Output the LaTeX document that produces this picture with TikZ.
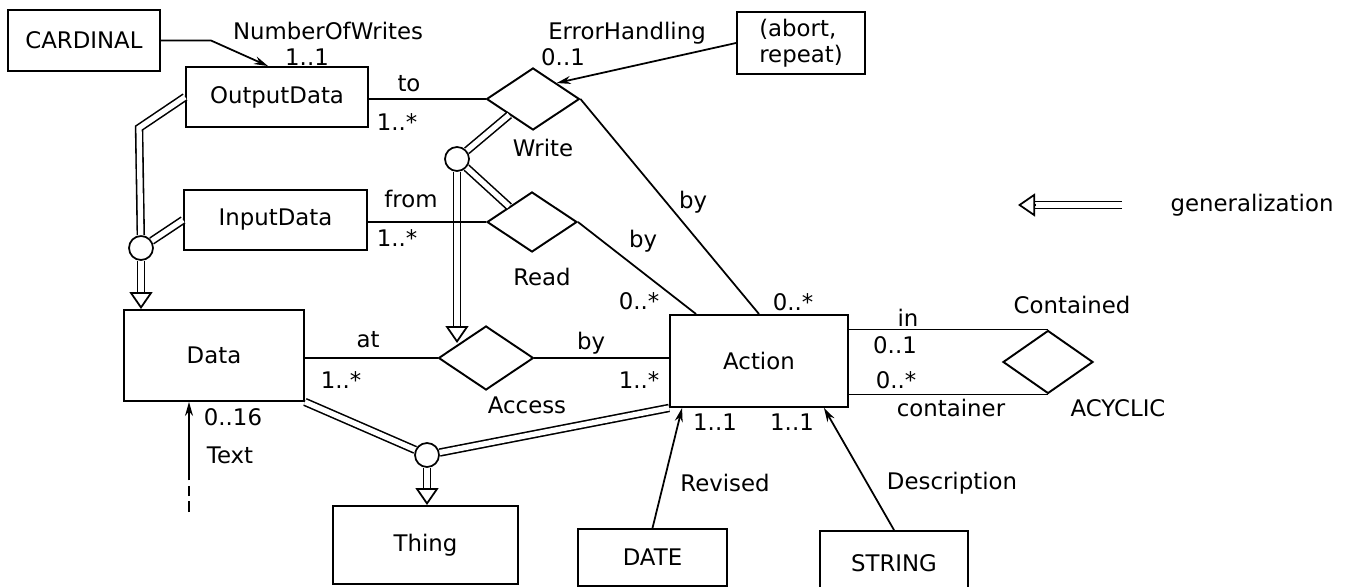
\documentclass[tikz,border=0pt]{standalone}
\usepackage{fontspec}
\setmainfont{DejaVu Sans}
\usetikzlibrary{positioning, arrows.meta, shapes.geometric, calc}

\begin{document}
\begin{tikzpicture}[x=0.02cm, y=-0.02cm,
    font=\fontsize{13}{15}\selectfont,
    entity/.style={draw, rectangle, line width=1.1pt, inner sep=2pt},
    relation/.style={draw, diamond, line width=1.1pt, inner sep=0pt},
    isa/.style={draw, circle, line width=1pt, fill=white, minimum size=0.48cm, inner sep=0pt},
    assoc/.style={line width=1pt},
    ref/.style={line width=1pt, -{Stealth[length=0.28cm, width=0.16cm]}},
    gen/.style={double, double distance=3pt, line width=0.9pt},
    genhead/.style={line width=1pt, -{Triangle[open, length=0.34cm, width=0.46cm]}},
    lbl/.style={inner sep=0pt}]
    \useasboundingbox (0,0) rectangle (1348,587);

    % Entities
    \node[entity, minimum width=3.04cm, minimum height=1.22cm] (cardinal) at (84,40.5) {CARDINAL};
    \node[entity, minimum width=3.64cm, minimum height=1.2cm] (outputdata) at (277,97) {OutputData};
    \node[entity, minimum width=3.66cm, minimum height=1.2cm] (inputdata) at (275.5,220) {InputData};
    \node[entity, minimum width=3.6cm, minimum height=1.82cm] (data) at (214,355.5) {Data};
    \node[entity, minimum width=3.56cm, minimum height=1.84cm] (action) at (759,361) {Action};
    \node[entity, minimum width=3.7cm, minimum height=1.56cm] (thing) at (425.5,545) {Thing};
    \node[entity, minimum width=2.98cm, minimum height=1.14cm] (date) at (652.5,557.5) {DATE};
    \node[entity, minimum width=2.96cm, minimum height=1.3cm] (string) at (894,563.5) {STRING};
    \node[entity, minimum width=2.56cm, minimum height=1.24cm, align=left] (abort) at (801,43) {(abort,\\repeat)};

    % Relationships
    \node[relation, minimum width=1.86cm, minimum height=1.24cm] (write) at (533,99) {};
    \node[relation, minimum width=1.8cm, minimum height=1.2cm] (read) at (532,222) {};
    \node[relation, minimum width=1.9cm, minimum height=1.28cm] (access) at (486,358) {};
    \node[relation, minimum width=1.8cm, minimum height=1.26cm] (contained) at (1048,362) {};

    % Generalization points
    \node[isa] (gc1) at (141,248) {};
    \node[isa] (gc2) at (457,159) {};
    \node[isa] (gc3) at (427,455) {};

    % Generalization lines
    \coordinate (dtip) at (gc1 |- data.north);
    \coordinate (dbase) at ([yshift=0.34cm]dtip);
    \draw[gen] (outputdata.west) -- ++(-46,31) -- (gc1);
    \draw[gen] (inputdata.west) -- (gc1);
    \draw[gen] (gc1) -- (dbase);
    \draw[genhead] (dbase) -- (dtip);

    \coordinate (acctip) at (457,343);
    \coordinate (accbase) at ([yshift=0.34cm]acctip);
    \draw[gen] (gc2) -- (write.south west);
    \draw[gen] (gc2) -- (read.north west);
    \draw[gen] (gc2) -- (accbase);
    \draw[genhead] (accbase) -- (acctip);

    \coordinate (thtip) at (gc3 |- thing.north);
    \coordinate (thbase) at ([yshift=0.34cm]thtip);
    \draw[gen] (data.south east) -- (gc3);
    \draw[gen] (gc3) -- (action.south west);
    \draw[gen] (gc3) -- (thbase);
    \draw[genhead] (thbase) -- (thtip);

    % Associations
    \draw[ref] (cardinal.east) -- ++(50,0) -- ([xshift=-0.18cm]outputdata.north);
    \draw[assoc] (outputdata.east |- write.west) -- (write.west);
    \draw[ref] (abort.west) -- (write.north east);
    \draw[assoc] (write.east) -- (action.north);
    \draw[assoc] (inputdata.east |- read.west) -- (read.west);
    \draw[assoc] (read.east) -- ([xshift=0.54cm]action.north west);
    \draw[assoc] (data.east |- access.west) -- (access.west);
    \draw[assoc] (access.east) -- (action.west |- access.east);
    \draw[assoc] (action.east |- contained.north) -- (contained.north);
    \draw[assoc] (action.east |- contained.south) -- (contained.south);
    \draw[ref] (date.north) -- ([xshift=0.26cm]action.south west);
    \draw[ref] (string.north) -- ([xshift=-0.5cm]action.south east);

    % Text attribute
    \coordinate (txtend) at (189,512);
    \coordinate (txtmid) at (189,470);
    \draw[assoc, dash pattern=on 6pt off 3pt] (txtend) -- (txtmid);
    \draw[ref] (txtmid) -- (txtmid |- data.south);

    % Labels
    \node[lbl] (lnow) at (328,31) {NumberOfWrites};
    \node[lbl] (lnow1) at (307,57) {1..1};
    \node[lbl] (lto) at (409,84) {to};
    \node[lbl] (lto1) at (397,122) {1..*};
    \node[lbl] (leh) at (627,33) {ErrorHandling};
    \node[lbl] (leh1) at (563,57) {0..1};
    \node[lbl] (lwrite) at (543,148) {Write};
    \node[lbl] (lfrom) at (411,199) {from};
    \node[lbl] (lfrom1) at (397,238) {1..*};
    \node[lbl] (lread) at (542,277) {Read};
    \node[lbl] (lbyw) at (693,202) {by};
    \node[lbl] (lbyr) at (643,241) {by};
    \node[lbl] (lbyr1) at (639,301) {0..*};
    \node[lbl] (lbyw1) at (793,302) {0..*};
    \node[lbl] (lat) at (368,340) {at};
    \node[lbl] (lat1) at (341,380) {1..*};
    \node[lbl] (lbya) at (591,343) {by};
    \node[lbl] (lbya1) at (639,380) {1..*};
    \node[lbl] (laccess) at (527,405) {Access};
    \node[lbl] (ltext1) at (233,417) {0..16};
    \node[lbl] (ltext) at (230,455) {Text};
    \node[lbl] (lrev1) at (715,422) {1..1};
    \node[lbl] (ldesc1) at (792,422) {1..1};
    \node[lbl] (lrev) at (725,483) {Revised};
    \node[lbl] (ldesc) at (952,483) {Description};
    \node[lbl] (lin) at (908,318) {in};
    \node[lbl] (lin1) at (895,345) {0..1};
    \node[lbl] (lcont1) at (896,380) {0..*};
    \node[lbl] (lcont) at (951,408) {container};
    \node[lbl] (lcontained) at (1072,305) {Contained};
    \node[lbl] (lacyclic) at (1118,408) {ACYCLIC};

    % Legend
    \coordinate (legtail) at (1122,205);
    \coordinate (legtip) at (1018,205);
    \coordinate (legbase) at ([xshift=0.34cm]legtip);
    \draw[gen] (legtail) -- (legbase);
    \draw[genhead] (legbase) -- (legtip);
    \node[lbl] (legtext) at (1252,205) {generalization};
\end{tikzpicture}
\end{document}
